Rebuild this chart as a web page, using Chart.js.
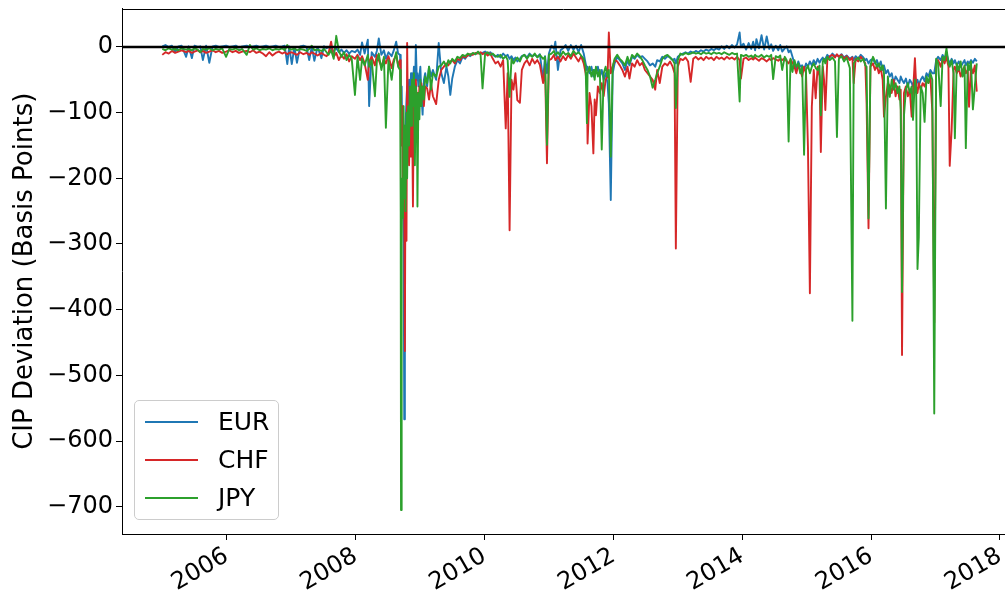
<!DOCTYPE html>
<html><head><meta charset="utf-8">
<script src="https://cdn.jsdelivr.net/npm/chart.js@4.4.0/dist/chart.umd.min.js"></script>
<style>
html,body{margin:0;padding:0;background:#fff;overflow:hidden}
#wrap{position:relative;width:1005px;height:592px}
#legend{position:absolute;left:134px;top:400px;width:145px;height:120px;box-sizing:border-box;border:1px solid #cccccc;border-radius:5px;background:rgba(255,255,255,0.8);font-family:"DejaVu Sans";font-size:25px;color:#000}
.sw{position:absolute;left:10px;width:53px;height:2px}
.lab{position:absolute;left:83px;line-height:29px;white-space:nowrap}
</style></head>
<body>
<div id="wrap">
<canvas id="c" width="1005" height="592"></canvas>
<div id="legend">
  <div class="sw" style="top:20px;background:#1f77b4"></div><div class="lab" style="top:6px">EUR</div>
  <div class="sw" style="top:57.7px;background:#d62728"></div><div class="lab" style="top:43.7px">CHF</div>
  <div class="sw" style="top:95.7px;background:#2ca02c"></div><div class="lab" style="top:81.7px">JPY</div>
</div>
</div>
<script>
// Dates (decimal years), shared by the three series
const dates = [
 2005.00,2005.05,2005.10,2005.15,2005.20,2005.25,2005.30,2005.37,2005.41,2005.46,2005.50,2005.55,2005.59,2005.63,2005.68,2005.73,2005.78,2005.83,2005.88,2005.93,2005.99,2006.04,2006.09,2006.14,2006.19,2006.24,2006.31,2006.36,2006.41,2006.46,2006.51,2006.56,2006.61,2006.66,2006.71,2006.76,2006.81,2006.86,2006.90,2006.94,2006.97,2007.01,2007.05,2007.09,2007.14,2007.19,2007.24,2007.28,2007.32,2007.36,2007.41,2007.47,2007.51,2007.55,
 2007.58,2007.62,2007.66,2007.70,2007.74,2007.78,2007.82,2007.86,2007.90,2007.94,2007.99,2008.03,2008.07,2008.10,2008.14,2008.19,2008.21,2008.25,2008.30,2008.33,2008.36,2008.40,2008.44,2008.47,2008.51,2008.56,2008.59,2008.63,2008.66,
 2008.69,2008.70,2008.705,2008.715,2008.725,2008.735,2008.745,2008.755,2008.765,2008.775,2008.79,2008.80,2008.815,2008.83,2008.845,2008.86,2008.875,2008.89,2008.905,2008.92,2008.935,2008.95,2008.96,2008.975,2008.99,2009.005,2009.02,2009.04,2009.06,2009.08,
 2009.11,2009.14,2009.17,2009.20,2009.25,2009.29,2009.33,2009.37,2009.41,2009.44,2009.47,2009.50,2009.54,2009.58,2009.62,2009.66,2009.70,2009.74,2009.78,2009.82,2009.86,2009.90,2009.94,2009.97,2010.01,2010.05,2010.09,2010.13,2010.17,
 2010.21,2010.25,2010.29,2010.33,2010.36,2010.39,2010.42,2010.45,2010.48,2010.51,2010.55,2010.58,2010.62,2010.66,2010.70,2010.74,2010.78,2010.82,2010.86,2010.91,2010.94,2010.97,2011.00,
 2011.04,2011.08,2011.10,2011.14,2011.18,2011.22,2011.26,2011.30,2011.34,2011.38,2011.42,2011.46,2011.50,2011.54,
 2011.57,2011.59,2011.60,2011.63,2011.66,2011.69,2011.71,2011.73,2011.76,2011.79,2011.82,2011.85,2011.88,2011.91,2011.93,2011.96,2011.99,2012.02,
 2012.06,2012.10,2012.14,2012.18,2012.22,2012.25,2012.29,2012.33,2012.37,2012.41,2012.45,2012.49,2012.53,2012.57,2012.61,2012.65,2012.68,2012.72,2012.76,2012.80,2012.84,2012.88,2012.92,2012.95,
 2012.97,2013.00,2013.04,2013.08,2013.12,2013.16,2013.20,2013.24,2013.28,2013.32,2013.36,2013.40,2013.44,2013.48,2013.52,2013.56,2013.60,2013.64,2013.68,2013.72,2013.76,2013.80,2013.84,2013.88,2013.92,
 2013.96,2013.98,2014.02,2014.06,2014.10,2014.14,2014.17,2014.20,2014.22,2014.26,2014.30,2014.34,2014.38,2014.42,2014.45,2014.48,2014.52,2014.56,2014.59,2014.62,2014.66,2014.69,2014.72,2014.75,2014.78,
 2014.81,2014.84,2014.87,2014.90,2014.93,2014.96,2014.99,2015.02,2015.05,2015.08,2015.11,2015.14,2015.17,2015.20,2015.22,2015.25,2015.27,2015.29,2015.32,2015.36,2015.40,2015.44,2015.47,2015.50,2015.54,2015.58,2015.62,2015.67,2015.71,2015.73,2015.76,2015.80,2015.84,2015.88,2015.91,2015.93,2015.96,2015.99,
 2016.03,2016.06,2016.09,2016.12,2016.15,2016.18,2016.20,2016.23,2016.26,2016.29,2016.32,2016.35,2016.38,2016.41,2016.44,2016.46,2016.48,2016.51,2016.54,
 2016.57,2016.60,2016.63,2016.65,2016.68,2016.70,2016.72,2016.74,2016.77,2016.80,2016.83,2016.86,2016.89,2016.92,2016.95,2016.98,2017.01,
 2017.04,2017.08,2017.11,2017.14,2017.17,2017.20,2017.22,2017.25,2017.28,2017.30,2017.33,2017.36,2017.39,2017.42,2017.45,2017.47,2017.50,2017.52,2017.55,2017.58,2017.61,2017.64
];

// EUR CIP deviation (basis points)
const eur = [
 1,3,0,2,-8,1,2,-15,1,-17,2,0,1,-20,2,-24,1,2,0,1,2,0,1,2,-1,1,2,0,1,2,0,1,2,0,1,2,0,1,2,-26,1,-26,0,-24,1,2,0,-20,1,-21,0,-17,1,-2,
 0,-3,-6,-2,-8,-4,-9,-5,-10,-6,-8,-4,-12,7,-10,11,-90,-8,-15,-6,13,-12,-5,-18,-8,-14,-6,8,-10,
 -12,-40,-80,-60,-150,-100,-250,-567,-300,-120,-80,-60,-100,-50,-90,-40,-70,-60,-30,-80,3,-50,-40,-60,-45,-30,-70,-103,-50,-40,
 -60,-30,-45,-35,-50,6,-40,-55,-30,-45,-73,-48,-30,-20,-25,-15,-18,-12,-14,-10,-11,-8,-10,-9,-7,-10,-8,-12,-15,
 -12,-16,-10,-14,-12,-18,-14,-20,-16,-22,-18,-14,-12,-16,-10,-14,-12,-15,-11,-50,-14,-40,-10,
 2,-3,8,-35,-5,-2,3,-6,3,-4,2,-8,3,-10,
 -25,-35,-30,-40,-30,-45,-35,-40,-30,-45,-35,-50,-40,-55,-86,-233,-40,-25,
 -15,-20,-25,-35,-20,-28,-15,-18,-12,-16,-14,-18,-22,-28,-25,-30,-20,-22,-15,-18,-14,-16,-20,-18,
 -25,-15,-12,-10,-8,-10,-7,-9,-6,-8,-5,-7,-4,-6,-3,-5,-2,-4,1,-3,2,-2,3,-1,4,
 22,0,5,-4,6,-3,8,-5,12,-2,18,-4,16,-3,4,-6,2,-5,3,-7,-2,1,-8,-5,-15,
 -25,-35,-22,-30,-28,-35,-25,-30,-22,-28,-20,-26,-18,-24,-20,-16,-22,-18,-12,-16,-10,-14,-12,-15,-11,-16,-13,-18,-15,-20,-14,-18,-12,-16,-20,-18,-25,-20,
 -18,-25,-20,-30,-22,-35,-28,-40,-35,-45,-40,-55,-45,-50,-55,-45,-50,-55,-48,
 -60,-50,-55,-60,-45,-55,-50,-58,-50,-45,-52,-40,-45,-35,-40,-40,-20,
 -15,-20,-12,-18,-10,-20,-25,-18,-25,-20,-28,-22,-30,-25,-20,-28,-22,-25,-20,-24,-18,-22
];

// CHF CIP deviation (basis points)
const chf = [
 -12,-8,-10,-6,-9,-7,-5,-8,-6,-9,-7,-5,-8,-6,-9,-7,-5,-8,-6,-9,-7,-5,-8,-6,-9,-7,-6,-8,-5,-9,-7,-10,-14,-8,-13,-9,-7,-10,-8,-11,-9,-8,-10,-12,-8,-11,-9,-12,-8,-10,-13,-9,-12,-14,
 -10,8,-15,-9,-20,-12,-18,-11,-22,-14,-18,-12,-20,-14,-25,-50,-22,-15,-28,-12,-20,-30,-18,-25,-14,-32,-20,-12,-28,
 -20,-60,-100,-150,-90,-250,-120,-200,-463,-150,-295,6,-130,-180,-100,-167,-80,-243,-60,-121,-50,-90,-70,-100,-60,-80,-55,-70,-90,-60,
 -63,-80,-55,-75,-87,-50,-35,-30,-25,-28,-22,-20,-25,-18,-20,-14,-16,-13,-11,-12,-9,-10,-8,-11,-9,-13,-10,-18,-25,
 -22,-30,-20,-124,-40,-279,-50,-65,-40,-81,-85,-35,-25,-20,-28,-18,-25,-20,-27,-55,-30,-177,-20,
 -18,-12,-20,-15,-22,-14,-20,-12,-18,-10,-16,-22,-14,-25,
 -40,-60,-147,-70,-90,-162,-80,-104,-60,-70,-55,-75,-50,-45,22,-40,-30,-20,
 -22,-28,-35,-45,-30,-48,-25,-30,-20,-28,-24,-35,-40,-45,-50,-65,-35,-55,-30,-25,-28,-22,-30,-40,
 -307,-30,-18,-20,-16,-22,-53,-18,-15,-19,-16,-20,-15,-18,-16,-20,-15,-18,-16,-19,-15,-18,-16,-19,-15,
 -20,-48,-18,-16,-20,-17,-19,-16,-18,-21,-17,-19,-22,-18,-20,-17,-19,-21,-18,-20,-17,-22,-25,-19,-24,
 -30,-40,-28,-35,-45,-30,-40,-152,-375,-91,-35,-78,-30,-45,-160,-30,-50,-96,-20,-14,-12,-16,-11,-15,-12,-18,-14,-20,-16,-55,-18,-22,-15,-20,-25,-86,-276,-30,
 -25,-35,-28,-40,-32,-50,-106,-76,-55,-60,-70,-50,-75,-60,-80,-65,-469,-70,-60,
 -75,-65,-106,-70,-17,-60,-70,-55,-65,-55,-60,-50,-55,-45,-98,-420,-25,
 -20,-30,-18,-25,-15,-30,-181,-126,-35,-30,-40,-32,-45,-35,-30,-40,-35,-91,-30,-40,-28,-68
];

// JPY CIP deviation (basis points)
const jpy = [
 -3,-5,-2,-4,-3,-5,-2,-4,-3,-5,-2,-4,-8,-3,-4,-2,-5,-3,-4,-2,-15,-3,-4,-2,-5,-3,-12,3,-4,-2,-5,-3,-4,-2,-5,-3,-4,-2,-5,3,-3,-4,-2,-5,-3,-4,-6,-3,2,-5,-4,-6,-3,-8,
 -12,-5,-18,17,-6,-15,-8,-20,-12,-18,-73,-15,-50,-18,-28,-12,-30,-20,-75,-22,-10,-35,-15,-123,-20,-50,-25,-8,-30,
 -35,-250,-705,-300,-200,-260,-90,-230,-120,-250,-100,-200,-90,-150,-60,-120,-50,-90,-40,-180,-60,-80,-243,-70,-110,-50,-90,-60,-80,-45,
 -55,-30,-65,-40,-45,-30,-28,-22,-30,-20,-25,-18,-22,-15,-17,-12,-14,-10,-12,-9,-11,-7,-12,-63,-10,-8,-12,-10,-14,
 -15,-12,-18,-14,-20,-76,-18,-25,-20,-16,-22,-15,-12,-18,-12,-15,-10,-16,-12,-18,-15,-149,-12,
 -10,-6,-12,-8,-14,-7,-12,-9,-14,-6,-11,-8,-13,-18,
 -30,-116,-40,-30,-45,-35,-50,-30,-45,-35,-156,-40,-30,-45,-35,-167,-30,-18,
 -12,-18,-22,-28,-15,-25,-12,-16,-10,-14,-20,-28,-35,-45,-62,-50,-40,-30,-18,-14,-12,-16,-20,-25,
 -93,-20,-10,-12,-9,-11,-10,-8,-10,-9,-11,-8,-10,-9,-11,-8,-10,-9,-11,-8,-10,-12,-9,-11,-10,
 -83,-12,-14,-12,-15,-13,-16,-12,-14,-15,-12,-16,-13,-15,-12,-49,-14,-16,-13,-35,-15,-20,-144,-18,-38,
 -20,-30,-25,-40,-30,-164,-35,-28,-40,-30,-25,-32,-35,-28,-104,-22,-18,-25,-15,-20,-16,-22,-137,-18,-14,-22,-16,-32,-417,-25,-20,-16,-22,-18,-28,-30,-261,-28,
 -15,-22,-30,-25,-35,-28,-40,-246,-45,-76,-50,-65,-55,-70,-60,-96,-373,-105,-65,
 -55,-70,-60,-111,-50,-65,-338,-290,-60,-70,-114,-45,-55,-40,-50,-558,-18,
 -25,-90,-15,-20,-2,-25,-30,-20,-40,-139,-25,-35,-22,-45,-28,-154,-25,-35,-22,-95,-60,-25
];

// Tick values
const yTicks = [0, -100, -200, -300, -400, -500, -600, -700];
const xTicks = [2006, 2008, 2010, 2012, 2014, 2016, 2018];

const xMin = 2004.375, xMax = 2018.078;
const yMin = -741.6, yMax = 58.6;

function series(vals) { return dates.map((d, i) => ({ x: d, y: vals[i] })); }

const frame = {
  id: 'frame',
  afterDraw(chart) {
    const { ctx, chartArea: a } = chart;
    ctx.save();
    ctx.strokeStyle = '#000';
    ctx.lineWidth = 1;
    ctx.beginPath();
    ctx.moveTo(a.left, Math.round(a.top) + 0.5);
    ctx.lineTo(a.right, Math.round(a.top) + 0.5);
    ctx.stroke();
    ctx.restore();
  }
};

const common = { pointRadius: 0, borderWidth: 1.9, borderJoinStyle: 'round', tension: 0, fill: false };

new Chart(document.getElementById('c'), {
  type: 'line',
  data: {
    datasets: [
      Object.assign({ label: 'EUR', data: series(eur), borderColor: '#1f77b4', order: 3 }, common),
      Object.assign({ label: 'CHF', data: series(chf), borderColor: '#d62728', order: 2 }, common),
      Object.assign({ label: 'JPY', data: series(jpy), borderColor: '#2ca02c', order: 1 }, common),
      { label: 'zero', data: [{ x: xMin, y: 0 }, { x: xMax, y: 0 }], borderColor: '#000', borderWidth: 2.4, pointRadius: 0, order: 0 }
    ]
  },
  options: {
    responsive: false,
    animation: false,
    layout: { padding: { top: 8.5, left: 0, right: 0, bottom: 0 } },
    plugins: { legend: { display: false }, tooltip: { enabled: false } },
    scales: {
      x: {
        type: 'linear', min: xMin, max: xMax,
        afterBuildTicks(s) { s.ticks = xTicks.map(v => ({ value: v })); },
        ticks: {
          autoSkip: false, minRotation: 30, maxRotation: 30, padding: 2, color: '#000',
          font: { family: 'DejaVu Sans', size: 24 },
          callback: v => String(v)
        },
        grid: { display: true, drawOnChartArea: false, drawTicks: true, tickLength: 6, color: '#000' },
        border: { display: true, color: '#000', width: 1 },
        afterFit(s) { s.height = 58; s.paddingLeft = 0; s.paddingRight = 0; }
      },
      y: {
        type: 'linear', min: yMin, max: yMax,
        afterBuildTicks(s) { s.ticks = yTicks.map(v => ({ value: v })); },
        ticks: {
          autoSkip: false, padding: 3, color: '#000',
          font: { family: 'DejaVu Sans', size: 24 },
          callback: v => String(v).replace('-', '\u2212')
        },
        grid: { display: true, drawOnChartArea: false, drawTicks: true, tickLength: 6, color: '#000' },
        border: { display: true, color: '#000', width: 1 },
        title: {
          display: true, text: 'CIP Deviation (Basis Points)', color: '#000',
          font: { family: 'DejaVu Sans', size: 26 }, padding: { top: 10, bottom: 0 }
        },
        afterFit(s) { s.width = 122; s.paddingTop = 0; s.paddingBottom = 0; }
      }
    }
  },
  plugins: [frame]
});
</script>
</body></html>
